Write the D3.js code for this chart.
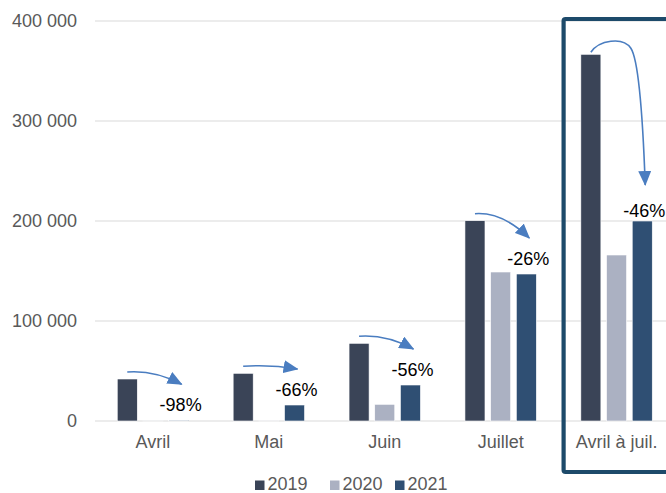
<!DOCTYPE html>
<html>
<head>
<meta charset="utf-8">
<script src="https://cdn.jsdelivr.net/npm/d3@7"></script>
<style>
  html, body { margin: 0; padding: 0; background: #ffffff; }
  svg { display: block; font-family: "Liberation Sans", Arial, sans-serif; }
</style>
</head>
<body>
<svg id="chart" width="666" height="493"></svg>
<script>
// ---- data ----
const categories = ["Avril", "Mai", "Juin", "Juillet", "Avril à juil."];
const seriesNames = ["2019", "2020", "2021"];
const values2019 = [42000, 47700, 77700, 200300, 366700];
const values2020 = [200, 300, 16700, 149000, 166000];
const values2021 = [800, 16000, 36000, 147000, 200000];
const changeLabels = ["-98%", "-66%", "-56%", "-26%", "-46%"];
const yTicks = [0, 100000, 200000, 300000, 400000];
const seriesColors = ["#3a4457", "#abb1c2", "#2f4f73"];

const seriesValues = [values2019, values2020, values2021];

const svg = d3.select("#chart");
const W = 666, H = 493;

const x = d3.scaleBand().domain(categories).range([95, 674.5]).paddingInner(0).paddingOuter(0);
const xs = d3.scaleBand().domain(seriesNames).range([-35.7, 35.7]).paddingInner(0.22);
const y = d3.scaleLinear().domain([0, 400000]).range([421, 21]);
const color = d3.scaleOrdinal().domain(seriesNames).range(seriesColors);

const fr = d3.formatLocale({ decimal: ",", thousands: "\u00a0", grouping: [3], currency: ["", " €"] });
const fmt = fr.format(",d");

// gridlines
svg.append("g").selectAll("line").data(yTicks).join("line")
  .attr("x1", 95).attr("x2", W)
  .attr("y1", d => y(d)).attr("y2", d => y(d))
  .attr("stroke", "#d9d9d9").attr("stroke-width", 1);

// y axis labels
const yAxis = d3.axisLeft(y).tickValues(yTicks).tickFormat(fmt).tickSize(0).tickPadding(0);
const gy = svg.append("g").attr("transform", "translate(77,0)").call(yAxis);
gy.select(".domain").remove();
gy.selectAll("text").attr("font-size", 18).attr("fill", "#595959")
  .attr("font-family", "Liberation Sans, Arial, sans-serif");

// x axis labels
const xAxis = d3.axisBottom(x).tickSize(0).tickPadding(0);
const gx = svg.append("g").attr("transform", "translate(0,434)").call(xAxis);
gx.select(".domain").remove();
gx.selectAll("text").attr("font-size", 18).attr("fill", "#595959").attr("dy", 0)
  .attr("y", 14)
  .attr("font-family", "Liberation Sans, Arial, sans-serif");

// bars
const rows = categories.map((c, i) => ({ cat: c, vals: seriesNames.map((s, j) => ({ s, v: seriesValues[j][i] })) }));
svg.append("g").selectAll("g").data(rows).join("g")
  .attr("transform", d => `translate(${x(d.cat) + x.bandwidth() / 2},0)`)
  .selectAll("rect").data(d => d.vals).join("rect")
  .attr("x", d => xs(d.s)).attr("width", xs.bandwidth())
  .attr("y", d => y(d.v)).attr("height", d => y(0) - y(d.v))
  .attr("fill", d => color(d.s))
  .attr("stroke", "#ffffff").attr("stroke-width", 0.6);

// arrows
const defs = svg.append("defs");
defs.append("marker").attr("id", "head")
  .attr("viewBox", "0 -6.5 15 13").attr("refX", 14).attr("refY", 0)
  .attr("markerUnits", "userSpaceOnUse").attr("markerWidth", 15).attr("markerHeight", 13)
  .attr("orient", "auto")
  .append("path").attr("d", "M0,-6.5 L15,0 L0,6.5 Z").attr("fill", "#4a7dc0");

const arrowColor = "#4a7dc0";
const gA = svg.append("g");
categories.forEach((c, i) => {
  const cx = x(c) + x.bandwidth() / 2;
  const sx = cx + xs("2019") + xs.bandwidth() / 2;
  const bx = cx + xs("2021") + xs.bandwidth() / 2;
  const ex = bx + 3;
  const ey = y(values2021[i]) - 36;
  const last = i === categories.length - 1;
  let d;
  if (!last) {
    const sy = y(values2019[i]) - 7;
    const mx = sx + 0.5 * (ex - sx);
    d = `M${sx},${sy} Q${mx},${sy - 2} ${ex},${ey}`;
  } else {
    const sy = y(values2019[i]) - 2;
    d = `M${sx},${sy} C${sx + 8},${sy - 12} ${sx + 32},${sy - 16} ${sx + 40},${sy - 4}` +
        ` C${sx + 48},${sy + 8} ${ex - 2},${ey - 56} ${ex},${ey}`;
  }
  gA.append("path").attr("d", d).attr("fill", "none")
    .attr("stroke", arrowColor).attr("stroke-width", 1.6)
    .attr("marker-end", "url(#head)");
  gA.append("text").attr("x", bx + 2).attr("y", last ? y(values2021[i]) - 4 : ey + 27)
    .attr("text-anchor", "middle").attr("font-size", 18).attr("fill", "#000000")
    .text(changeLabels[i]);
});

// highlight box
const lastCat = categories[categories.length - 1];
svg.append("rect")
  .attr("x", x(lastCat) + 5).attr("y", 19)
  .attr("width", 130).attr("height", 453)
  .attr("rx", 2).attr("fill", "none")
  .attr("stroke", "#1d4a6a").attr("stroke-width", 4.2);

// legend
const legendX = [255, 330, 395];
const gL = svg.append("g");
seriesNames.forEach((s, i) => {
  gL.append("rect").attr("x", legendX[i]).attr("y", 480.5).attr("width", 9.5).attr("height", 9.5)
    .attr("fill", color(s));
  gL.append("text").attr("x", legendX[i] + 12.5).attr("y", 489.5)
    .attr("font-size", 18).attr("fill", "#595959").text(s);
});
</script>
</body>
</html>
